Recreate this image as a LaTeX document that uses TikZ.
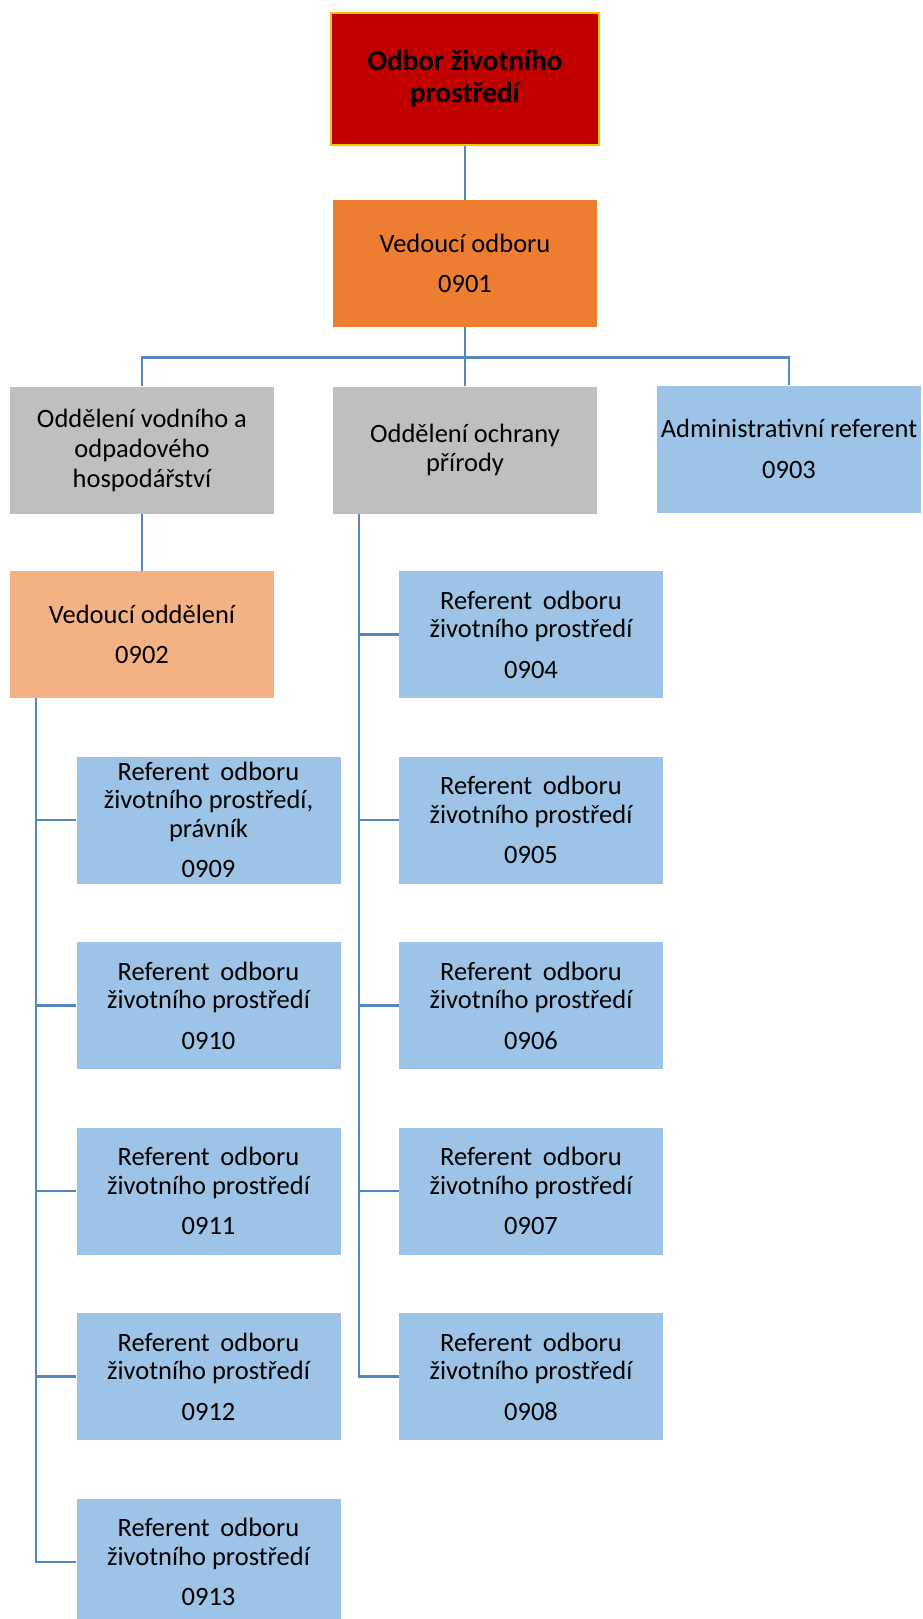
\documentclass[tikz,border=0pt]{standalone}
\usepackage{fontspec}
\setmainfont{Carlito}
\definecolor{headred}{HTML}{C00000}
\definecolor{headedge}{HTML}{FFC000}
\definecolor{chieforange}{HTML}{ED7D31}
\definecolor{unitgrey}{HTML}{BFBFBF}
\definecolor{leadpeach}{HTML}{F4B183}
\definecolor{staffblue}{HTML}{9DC3E6}
\definecolor{linkblue}{RGB}{84,134,194}
\newcommand{\refline}{Referent\hspace{0.4em}odboru\\životního prostředí}
\begin{document}
\begin{tikzpicture}[x=1pt,y=-1pt,
  orgbox/.style={minimum width=264pt, minimum height=127pt, inner sep=0pt,
    align=center, text=black, font=\fontsize{26.5}{28.5}\selectfont},
  headbox/.style={orgbox, minimum width=268pt, minimum height=132pt,
    fill=headred, draw=headedge, line width=1.5pt,
    font=\bfseries\fontsize{29}{32}\selectfont},
  chiefbox/.style={orgbox, fill=chieforange},
  unitbox/.style={orgbox, fill=unitgrey},
  leadbox/.style={orgbox, fill=leadpeach},
  staffbox/.style={orgbox, fill=staffblue},
  conn/.style={draw=linkblue, line width=2.6pt}]
\useasboundingbox (0,0) rectangle (922,1619);

% top of the hierarchy
\node[headbox]  (head) at (465,79)    {Odbor životního\\prostředí};
\node[chiefbox] (n0901) at (465,263.5) {Vedoucí odboru\\[12pt]0901};

% second level
\node[unitbox, font=\fontsize{26.5}{30}\selectfont]
                (unitA) at (142,450) {Oddělení vodního a\\odpadového\\hospodářství};
\node[unitbox]  (unitB) at (465,450) {Oddělení ochrany\\přírody};
\node[staffbox] (n0903) at (789,449) {Administrativní referent\\[12pt]0903};

% water and waste section
\node[leadbox]  (n0902) at (142,634.5) {Vedoucí oddělení\\[12pt]0902};
\node[staffbox] (n0909) at (208.5,820)  {\refline,\\právník\\[12pt]0909};
\node[staffbox] (n0910) at (208.5,1005.5) {\refline\\[12pt]0910};
\node[staffbox] (n0911) at (208.5,1191)   {\refline\\[12pt]0911};
\node[staffbox] (n0912) at (208.5,1376.5) {\refline\\[12pt]0912};
\node[staffbox] (n0913) at (208.5,1562)   {\refline\\[12pt]0913};

% nature protection section
\node[staffbox] (n0904) at (531,634.5)  {\refline\\[12pt]0904};
\node[staffbox] (n0905) at (531,820)    {\refline\\[12pt]0905};
\node[staffbox] (n0906) at (531,1005.5) {\refline\\[12pt]0906};
\node[staffbox] (n0907) at (531,1191)   {\refline\\[12pt]0907};
\node[staffbox] (n0908) at (531,1376.5) {\refline\\[12pt]0908};

% connectors
\draw[conn] (head) -- (n0901);
\draw[conn] (n0901.south) -- (unitB.north);
\draw[conn] (unitA.north) -- ++(0,-29) -| (n0903.north);
\draw[conn] (unitA.south) -- (n0902.north);

\coordinate (spineA) at ([xshift=-106pt]n0902.south);
\foreach \c in {n0909,n0910,n0911,n0912,n0913}
  \draw[conn] (spineA) |- (\c.west);

\coordinate (spineB) at ([xshift=-106pt]unitB.south);
\foreach \c in {n0904,n0905,n0906,n0907,n0908}
  \draw[conn] (spineB) |- (\c.west);
\end{tikzpicture}
\end{document}
